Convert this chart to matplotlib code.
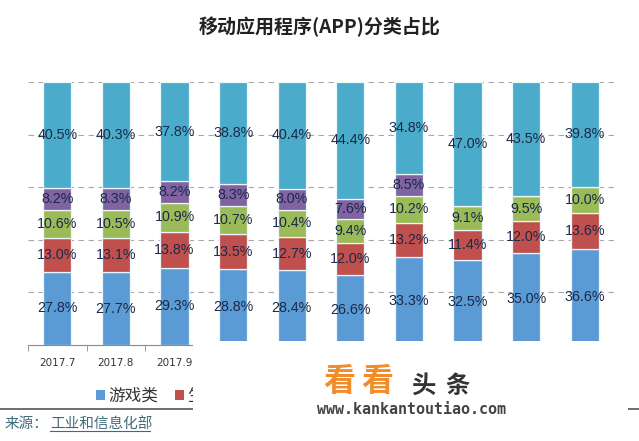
import numpy as np
import matplotlib
matplotlib.use("Agg")
import matplotlib.pyplot as plt
from matplotlib.patches import Rectangle, Patch
from matplotlib.lines import Line2D

plt.rcParams['font.family'] = ['Noto Sans CJK SC', 'DejaVu Sans']

# dados
meses = ["2017.7", "2017.8", "2017.9", "2017.10", "2017.11",
         "2017.12", "2018.1", "2018.2", "2018.3", "2018.4"]
categorias = ["游戏类", "生活服务类", "系统工具类", "社交通信类", "其他"]
jogos = [27.8, 27.7, 29.3, 28.8, 28.4, 26.6, 33.3, 32.5, 35.0, 36.6]
servicos = [13.0, 13.1, 13.8, 13.5, 12.7, 12.0, 13.2, 11.4, 12.0, 13.6]
ferramentas = [10.6, 10.5, 10.9, 10.7, 10.4, 9.4, 10.2, 9.1, 9.5, 10.0]
social = [8.2, 8.3, 8.2, 8.3, 8.0, 7.6, 8.5, 0, 0, 0]
outros = [40.5, 40.3, 37.8, 38.8, 40.4, 44.4, 34.8, 47.0, 43.5, 39.8]

series = [jogos, servicos, ferramentas, social, outros]
cores = ["#5b9bd5", "#c0504d", "#9bbb59", "#8064a2", "#4aacca"]

W, H = 639, 441
fig = plt.figure(figsize=(W / 100, H / 100), dpi=100)
ax = fig.add_axes([28 / W, 1 - 345 / H, (614 - 28) / W, (345 - 82) / H])

x = np.arange(len(meses))
base = np.zeros(len(meses))
for vals, cor in zip(series, cores):
    vals = np.array(vals, dtype=float)
    ax.bar(x, vals, 0.48, bottom=base, color=cor, edgecolor="#eef6f9", linewidth=0.9, zorder=2)
    for xi, b, v in zip(x, base, vals):
        if v > 0:
            ax.text(xi, b + v / 2, f"{v:.1f}%", ha="center", va="center",
                    fontsize=10.3, color="#1b2848", family="Liberation Sans", zorder=3)
    base += vals

ax.set_xlim(-0.5, len(meses) - 0.5)
ax.set_ylim(0, 100)
ax.set_yticks([20, 40, 60, 80, 100])
ax.yaxis.grid(True, linestyle=(0, (5, 4)), color="#a8a8a8", linewidth=0.8)
ax.set_axisbelow(True)
ax.tick_params(axis="y", left=False, labelleft=False)
for s in ["left", "right", "top"]:
    ax.spines[s].set_visible(False)
ax.spines["bottom"].set_color("#8a8a8a")
ax.set_xticks(x)
ax.set_xticklabels(meses, fontsize=7.5, color="#333333", family="DejaVu Sans")
ax.set_xticks(np.arange(-0.5, len(meses), 1), minor=True)
ax.tick_params(axis="x", which="major", length=0, pad=9)
ax.tick_params(axis="x", which="minor", length=4, color="#8a8a8a")

fig.text(0.5, 1 - 27 / H, "移动应用程序(APP)分类占比", ha="center", va="center",
         fontsize=13.7, fontweight="bold", color="#222222")

handles = [Patch(facecolor=c) for c in cores]
fig.legend(handles, categorias, loc="center left", bbox_to_anchor=(96 / W, 1 - 396 / H),
           ncol=5, frameon=False, fontsize=12, handlelength=0.55, handleheight=0.55,
           handletextpad=0.2, columnspacing=1.0, borderpad=0, borderaxespad=0,
           labelcolor="#333333")

# linha e fonte
fig.add_artist(Line2D([0, 1], [1 - 409 / H, 1 - 409 / H], transform=fig.transFigure,
                      color="#555555", linewidth=1.2, zorder=5))
fig.text(5 / W, 1 - 424 / H, "来源：", ha="left", va="center", fontsize=10.5,
         color="#3d6c78", zorder=5)
fig.text(50 / W, 1 - 424 / H, "工业和信息化部", ha="left", va="center", fontsize=10.5,
         color="#3d6c78", zorder=5)
fig.add_artist(Line2D([50 / W, 150 / W], [1 - 431 / H, 1 - 431 / H], transform=fig.transFigure,
                      color="#3d6c78", linewidth=0.8, zorder=5))

# retangulo branco da marca d'agua
fig.add_artist(Rectangle((193 / W, 0), (628 - 193) / W, (H - 341) / H, transform=fig.transFigure,
                         facecolor="white", edgecolor="none", zorder=10))
for cx, ch in zip([339, 377], "看看"):
    fig.text(cx / W, 1 - 382 / H, ch, ha="center", va="center", fontsize=23,
             fontweight="bold", color="#f08c2a", zorder=11)
for cx, ch in zip([423, 457], "头条"):
    fig.text(cx / W, 1 - 386 / H, ch, ha="center", va="center", fontsize=17.5,
             fontweight="bold", color="#333333", zorder=11)
fig.text(317 / W, 1 - 409 / H, "www.kankantoutiao.com", ha="left", va="center", fontsize=10.8,
         fontweight="bold", color="#444444", family="DejaVu Sans Mono", zorder=11)

fig.savefig("out.png", dpi=100)
